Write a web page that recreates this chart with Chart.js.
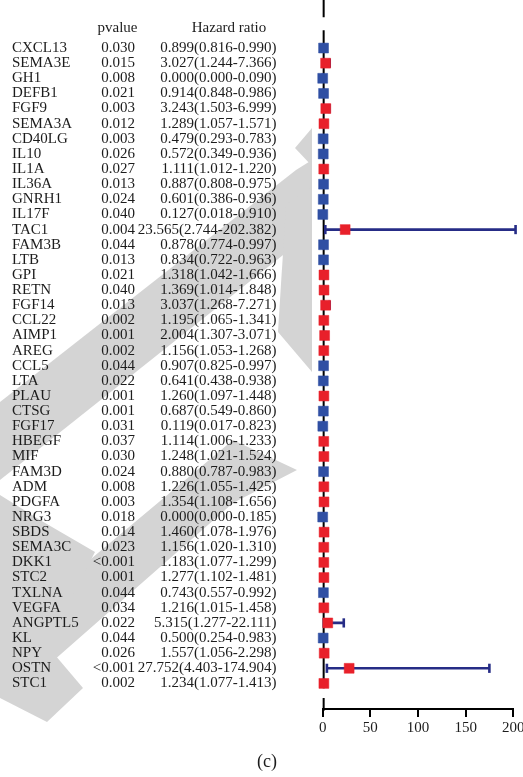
<!DOCTYPE html>
<html>
<head>
<meta charset="utf-8">
<script src="https://cdn.jsdelivr.net/npm/chart.js@4.4.0/dist/chart.umd.min.js"></script>
<style>
  html, body { margin: 0; padding: 0; background: #fff; overflow: hidden; width: 523px; height: 777px; }
  #wrap { position: relative; width: 523px; height: 777px; overflow: hidden; }
  canvas { display: block; }
</style>
</head>
<body>
<div id="wrap"><canvas id="forest" width="540" height="777"></canvas></div>
<script>
// Univariate Cox regression: genes, p-values, hazard ratios with 95% CI
const genes = ["CXCL13","SEMA3E","GH1","DEFB1","FGF9","SEMA3A","CD40LG","IL10","IL1A","IL36A","GNRH1","IL17F","TAC1","FAM3B","LTB","GPI","RETN","FGF14","CCL22","AIMP1","AREG","CCL5","LTA","PLAU","CTSG","FGF17","HBEGF","MIF","FAM3D","ADM","PDGFA","NRG3","SBDS","SEMA3C","DKK1","STC2","TXLNA","VEGFA","ANGPTL5","KL","NPY","OSTN","STC1"];
const pvalues = ["0.030","0.015","0.008","0.021","0.003","0.012","0.003","0.026","0.027","0.013","0.024","0.040","0.004","0.044","0.013","0.021","0.040","0.013","0.002","0.001","0.002","0.044","0.022","0.001","0.001","0.031","0.037","0.030","0.024","0.008","0.003","0.018","0.014","0.023","<0.001","0.001","0.044","0.034","0.022","0.044","0.026","<0.001","0.002"];
const hazardRatio = [0.899,3.027,0.000,0.914,3.243,1.289,0.479,0.572,1.111,0.887,0.601,0.127,23.565,0.878,0.834,1.318,1.369,3.037,1.195,2.004,1.156,0.907,0.641,1.260,0.687,0.119,1.114,1.248,0.880,1.226,1.354,0.000,1.460,1.156,1.183,1.277,0.743,1.216,5.315,0.500,1.557,27.752,1.234];
const ciLow = [0.816,1.244,0.000,0.848,1.503,1.057,0.293,0.349,1.012,0.808,0.386,0.018,2.744,0.774,0.722,1.042,1.014,1.268,1.065,1.307,1.053,0.825,0.438,1.097,0.549,0.017,1.006,1.021,0.787,1.055,1.108,0.000,1.078,1.020,1.077,1.102,0.557,1.015,1.277,0.254,1.056,4.403,1.077];
const ciHigh = [0.990,7.366,0.090,0.986,6.999,1.571,0.783,0.936,1.220,0.975,0.936,0.910,202.382,0.997,0.963,1.666,1.848,7.271,1.341,3.071,1.268,0.997,0.938,1.448,0.860,0.823,1.233,1.524,0.983,1.425,1.656,0.185,1.976,1.310,1.299,1.481,0.992,1.458,22.111,0.983,2.298,174.904,1.413];
const xTicks = [0, 50, 100, 150, 200];
const REF_HR = 1;

const RED = '#e8202a';
const BLUE = '#2f4fa3';
const NAVY = '#262c86';
const SERIF = '"Liberation Serif", "Times New Roman", serif';

// background watermark fragments (light grey), kept to the left of the plot
const watermark = [
  [[295,148],[312,128],[312,166]],
  [[296,170],[312,160],[312,232],[0,480],[0,402]],
  [[286,205],[312,186],[312,372],[278,332]],
  [[233,440],[297,470],[233,503],[20,690],[0,690],[0,635]],
  [[0,495],[40,520],[95,552],[70,600],[30,640],[0,652]],
  [[0,655],[55,655],[83,688],[47,722],[0,698]]
];

const rows = genes.map((g, i) => i);
const lastRow = rows.length - 1;

// confidence interval segments, separated by gaps
const ciSegments = [];
rows.forEach(i => {
  ciSegments.push({ x: ciLow[i], y: i }, { x: ciHigh[i], y: i }, { x: null, y: null });
});
const ciCaps = [];
rows.forEach(i => { ciCaps.push({ x: ciLow[i], y: i }, { x: ciHigh[i], y: i }); });
const points = rows.map(i => ({ x: hazardRatio[i], y: i }));
const markerColors = rows.map(i => hazardRatio[i] > REF_HR ? RED : BLUE);

// vertical line of no effect, broken above the first row and below the last one
const refLine = [
  { x: REF_HR, y: -3.2 }, { x: REF_HR, y: -2.03 }, { x: null, y: null },
  { x: REF_HR, y: -1.18 }, { x: REF_HR, y: lastRow + 0.32 }, { x: null, y: null },
  { x: REF_HR, y: lastRow + 0.97 }, { x: REF_HR, y: lastRow + 1.8 }
];

const watermarkPlugin = {
  id: 'watermark',
  beforeDraw(chart) {
    const ctx = chart.ctx;
    ctx.save();
    ctx.beginPath();
    ctx.rect(0, 0, 312, chart.height);
    ctx.clip();
    ctx.fillStyle = '#d4d4d4';
    watermark.forEach(poly => {
      ctx.beginPath();
      poly.forEach(([px, py], k) => k ? ctx.lineTo(px, py) : ctx.moveTo(px, py));
      ctx.closePath();
      ctx.fill();
    });
    ctx.restore();
  }
};

const tablePlugin = {
  id: 'forestTable',
  afterDraw(chart) {
    const ctx = chart.ctx;
    const y = chart.scales.y;
    ctx.save();
    ctx.fillStyle = '#1c1c1c';
    ctx.font = '15px ' + SERIF;
    ctx.textBaseline = 'middle';
    const hy = y.getPixelForValue(-1.33);
    ctx.textAlign = 'center';
    ctx.fillText('pvalue', 117.5, hy);
    ctx.fillText('Hazard ratio', 229, hy);
    rows.forEach(i => {
      const py = y.getPixelForValue(i);
      ctx.textAlign = 'left';
      ctx.fillText(genes[i], 12, py);
      ctx.textAlign = 'right';
      ctx.fillText(pvalues[i], 135, py);
      const label = hazardRatio[i].toFixed(3) + '(' + ciLow[i].toFixed(3) + '-' + ciHigh[i].toFixed(3) + ')';
      ctx.fillText(label, 276.5, py);
    });
    ctx.textAlign = 'center';
    ctx.font = '18px ' + SERIF;
    ctx.fillText('(c)', 267, 762);
    ctx.restore();
  }
};

new Chart(document.getElementById('forest'), {
  type: 'scatter',
  data: {
    datasets: [
      {
        label: 'HR',
        data: points,
        pointStyle: 'rect',
        pointRadius: 7,
        pointBackgroundColor: markerColors,
        pointBorderColor: markerColors,
        pointBorderWidth: 0.5,
        order: 0,
        clip: false
      },
      {
        label: 'CI',
        data: ciSegments,
        showLine: true,
        spanGaps: false,
        borderColor: NAVY,
        borderWidth: 2.6,
        pointRadius: 0,
        order: 1,
        clip: false
      },
      {
        label: 'CI caps',
        data: ciCaps,
        pointStyle: 'line',
        rotation: 90,
        pointRadius: 4.6,
        pointBorderColor: NAVY,
        pointBorderWidth: 2.6,
        order: 2,
        clip: false
      },
      {
        label: 'reference',
        data: refLine,
        showLine: true,
        spanGaps: false,
        borderColor: '#000',
        borderWidth: 2,
        pointRadius: 0,
        order: 3,
        clip: false
      }
    ]
  },
  options: {
    responsive: false,
    devicePixelRatio: 1,
    animation: false,
    events: [],
    layout: { padding: { left: 322.7, right: 26.7, top: 0, bottom: 0 } },
    plugins: { legend: { display: false }, tooltip: { enabled: false } },
    scales: {
      x: {
        type: 'linear',
        min: xTicks[0],
        max: xTicks[xTicks.length - 1],
        afterBuildTicks(scale) { scale.ticks = xTicks.map(v => ({ value: v })); },
        afterFit(scale) { scale.height = 68; },
        ticks: { color: '#1c1c1c', font: { family: SERIF, size: 15 }, padding: 2, maxRotation: 0 },
        grid: { drawOnChartArea: false, drawTicks: true, tickLength: 8, color: '#000', lineWidth: 2 },
        border: { display: true, color: '#000', width: 2 }
      },
      y: {
        type: 'linear',
        reverse: true,
        min: -2.68,
        max: lastRow + 1.69,
        display: false
      }
    }
  },
  plugins: [watermarkPlugin, tablePlugin]
});
</script>
</body>
</html>
